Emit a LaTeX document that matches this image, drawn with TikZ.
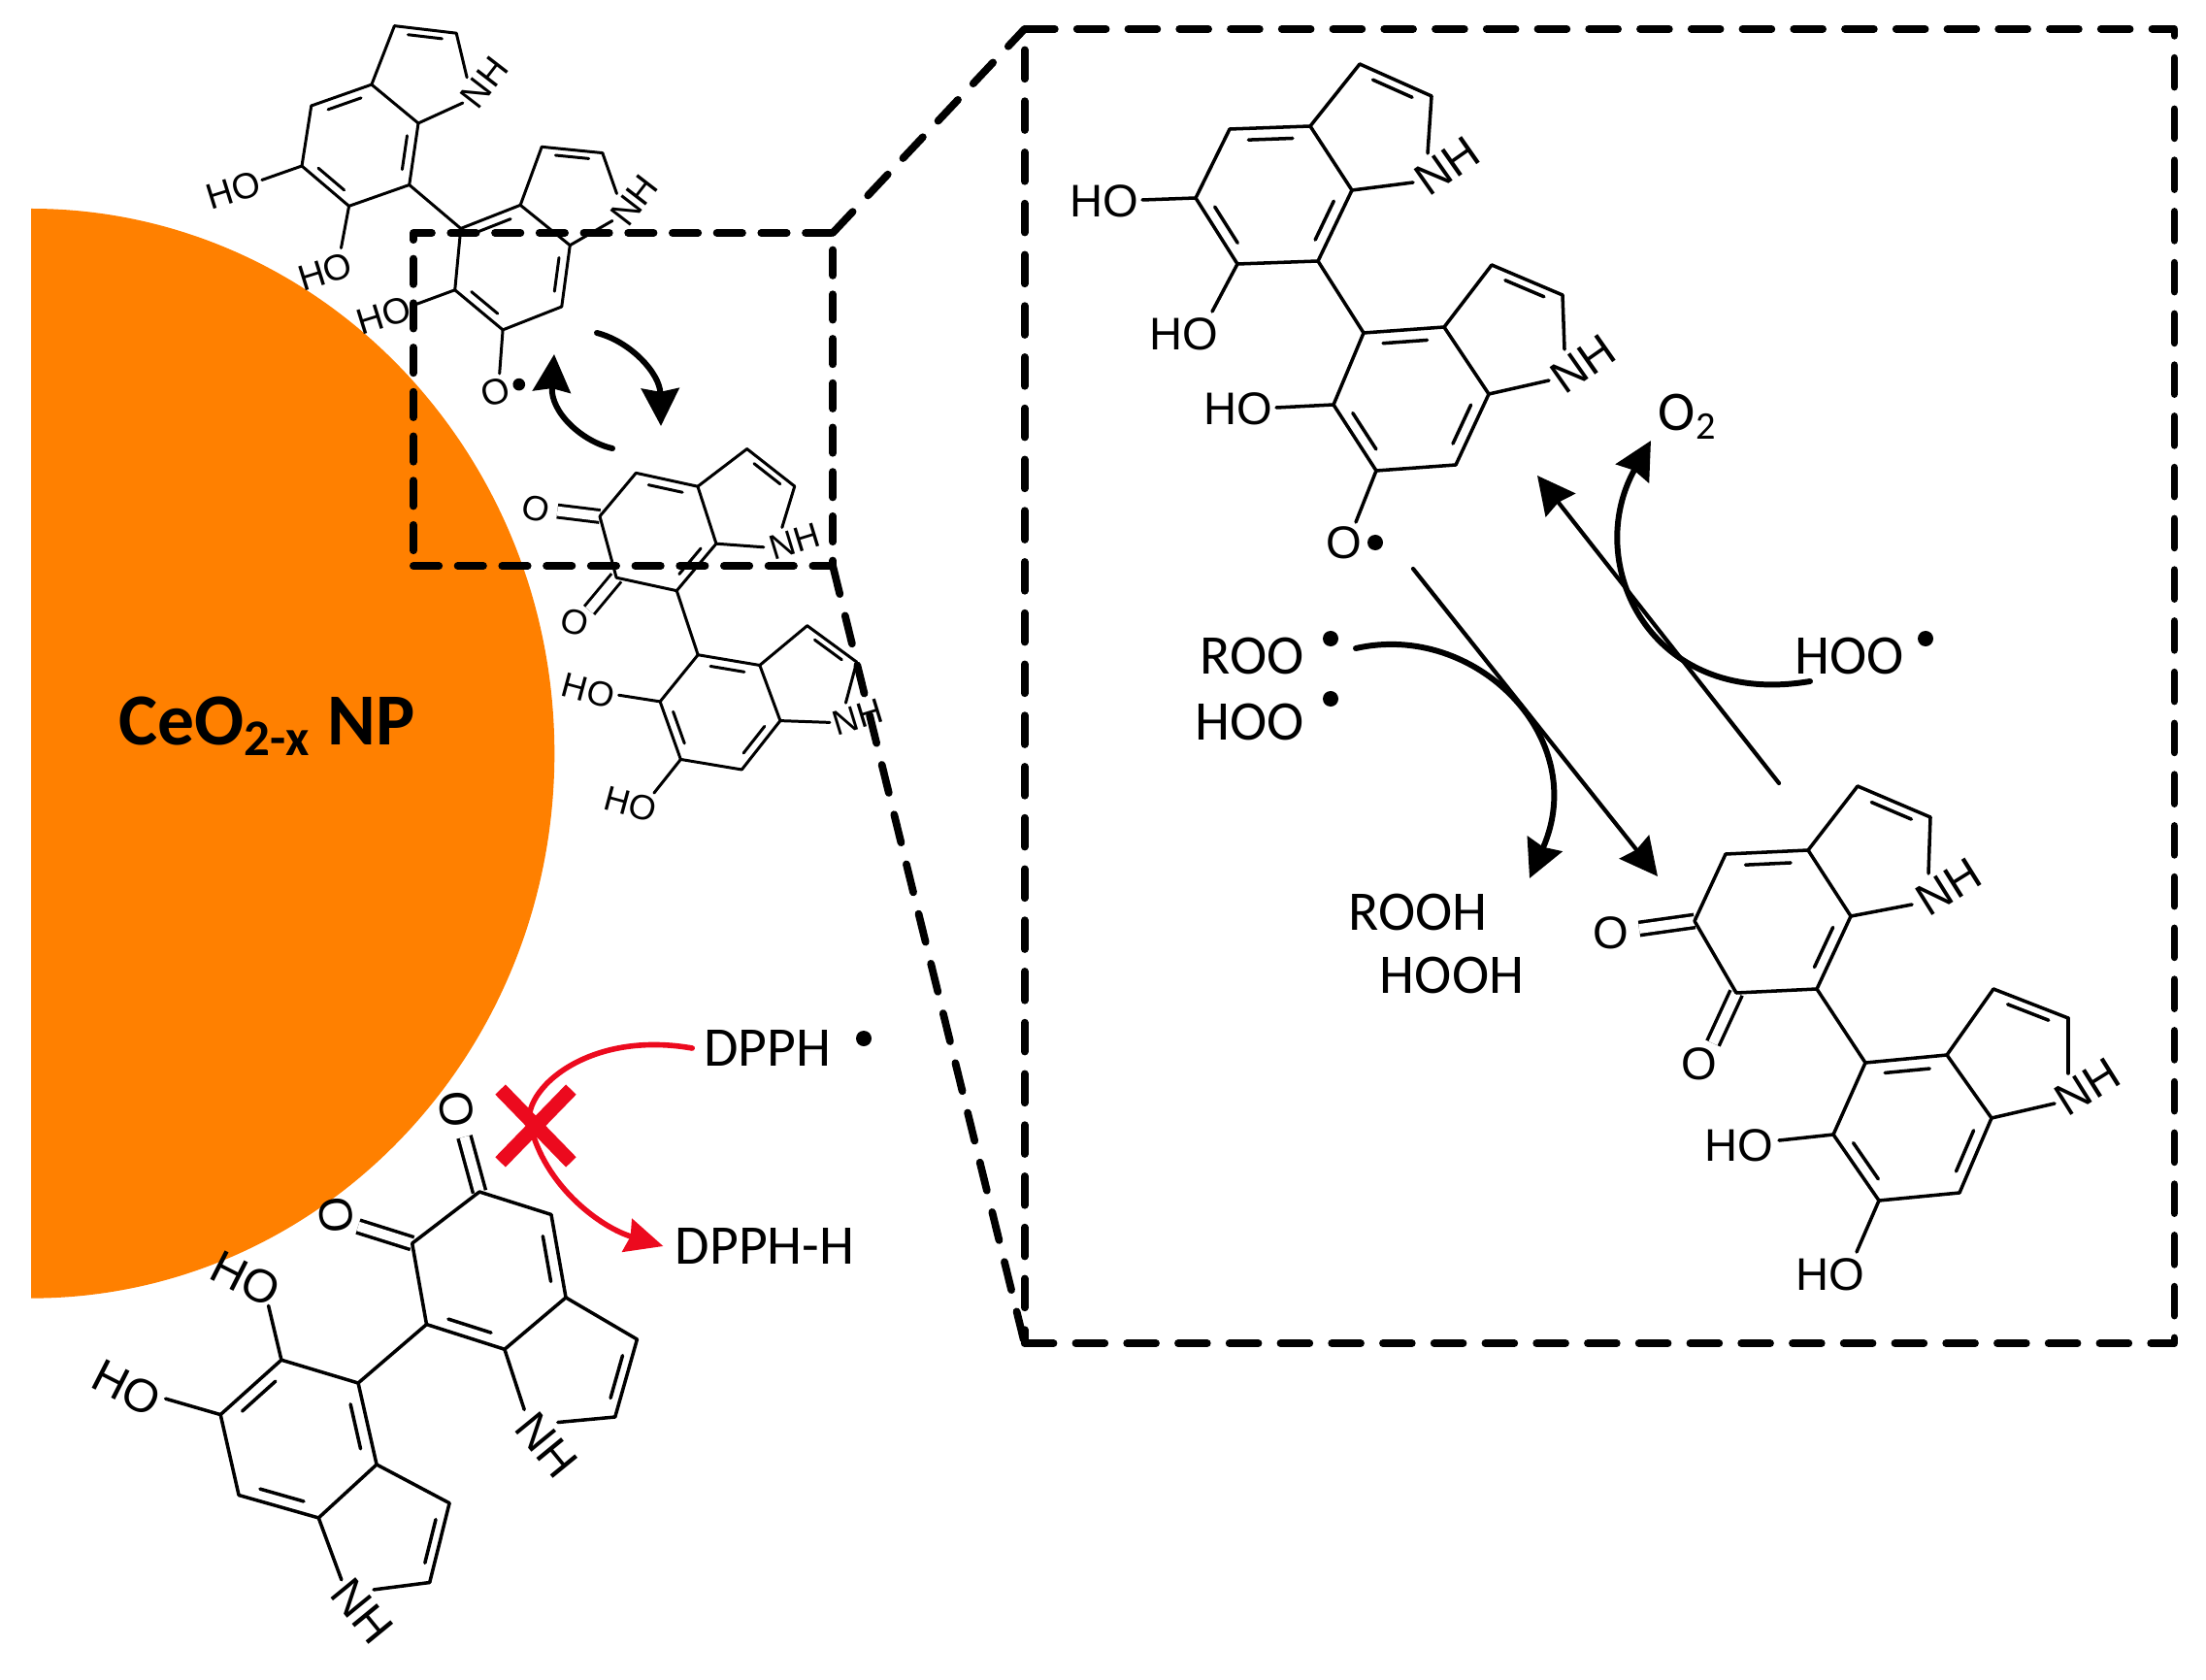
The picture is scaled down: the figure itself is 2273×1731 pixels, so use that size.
\documentclass[tikz,border=0pt]{standalone}
\usepackage{fontspec}
\setmainfont{Carlito}
\newfontfamily\chemfont{Liberation Sans}
\usetikzlibrary{arrows.meta,calc,shapes.misc}
\newcommand\inbond[3]{\draw ($(-#1)!.17!(-#2)!.17!(-#3)$) -- ($(-#2)!.17!(-#1)!.17!(-#3)$);}
\newcommand\bondset{%%
  \foreach \n/\m in {a1/a2,a2/n1,n2/c7a,a1/c3a,c3a/c4,c4/c5,c5/c6,c6/c7,c7/c7a,c7a/c3a,c7/e4,%%
    e4/e3a,e3a/e7a,e7a/e7,e7/e6,e6/e5,e5/e4,e3a/d1,d1/d2,d2/m1,m2/e7a}
    \draw (-\n) -- (-\m);
  \inbond{c3a}{c4}{r1}
  \inbond{c7}{c7a}{r1}
  \inbond{a1}{a2}{p1}
  \inbond{e4}{e3a}{r2}
  \inbond{e7a}{e7}{r2}
  \inbond{e6}{e5}{r2}
  \inbond{d1}{d2}{p2}
}
\tikzset{
  atom/.style={font=\chemfont\fontsize{13.4pt}{14pt}\selectfont,inner sep=0pt},
  label/.style={font=\fontsize{16.4pt}{18pt}\selectfont,inner sep=3pt},
  raddot/.style={circle,fill=black,inner sep=0pt,minimum size=.16cm},
  dblbond/.style={double,double distance=2.8pt,line cap=butt},
  ho place/.style={},
  zoombox/.style={draw,line width=2.2pt,dash pattern=on 8.5pt off 6.5pt,outer sep=0pt},
  zoomline/.style={line width=2.2pt,dash pattern=on 8.5pt off 6.5pt},
  step arrow/.style={line width=1.2pt,-{Stealth[length=11pt,width=11pt,inset=1pt]}},
  side arrow/.style={line width=1.7pt,-{Stealth[length=11pt,width=11pt,inset=1pt]}},
  red arrow/.style={draw=dppred,line width=1.6pt,-{Stealth[length=11pt,width=10pt,inset=1pt]}},
  pics/radical/.style={code={
    \foreach \n/\x/\y in {a1/169/-138,a2/243/-105,n1/239/-46,n2/224/-16,c3a/118/-74,c4/35/-71,c5/0/0,
      c6/43/68,c7/126/65,c7a/161/-8,e4/173/139,e3a/256/133,e7a/302/202,e7/268/275,e6/186/281,e5/142/213,
      d1/305/69,d2/378/100,m1/380/156,m2/364/188,h1/-55/2,h2/17/117,h3/83/216,oe/165/334,
      r1/80/-3,p1/187/-70,r2/222/207,p2/326/136}
      \coordinate (-\n) at (\x,\y);
    \bondset
    \inbond{c5}{c6}{r1}
    \draw (-c5) -- (-h1); \draw (-c6) -- (-h2); \draw (-e5) -- (-h3); \draw (-e6) -- (-oe); %%
    \node[atom] (-ho1) at (-94,3) {HO}; %%
    \node[atom] (-ho2) at (-12,140) {HO}; %%
    \node[atom] (-ho3) at (44,217) {HO}; %%
    \node[atom] (-ox) at (153,355) {O}; %%
    \node[raddot] (-dot) at (185,355) {}; %%
    \node[atom,rotate=35] (-nh1) at (259,-33) {NH}; %%
    \node[atom,rotate=35] (-nh2) at (399,171) {NH}; %%
  }},
  pics/quinone/.style={code={
    \foreach \n/\x/\y in {a1/168/-139,a2/243/-107,n1/241/-49,n2/224/-17,c3a/117/-73,c4/32/-69,c5/0/0,
      c6/43/74,c7/126/70,c7a/161/-5,e4/176/146,e3a/260/138,e7a/306/203,e7/273/280,e6/190/288,e5/143/220,
      d1/308/70,d2/385/100,m1/385/157,m2/371/188,o1/-57/8,o2/19/126,h1/87/226,h2/167/341,
      r1/82/0,p1/190/-68,r2/225/214,p2/330/138}
      \coordinate (-\n) at (\x,\y);
    \draw[dblbond] (-c5) -- (-o1); \draw[dblbond] (-c6) -- (-o2); %%
    \bondset
    \draw (-e5) -- (-h1); \draw (-e6) -- (-h2); %%
    \node[atom] (-ox1) at (-86,12) {O}; %%
    \node[atom] (-ox2) at (5,147) {O}; %%
    \node[atom,ho place] (-ho1) at (46,231) {HO}; %%
    \node[atom,ho place] (-ho2) at (140,364) {HO}; %%
    \node[atom,rotate=32] (-nh1) at (262,-35) {NH}; %%
    \node[atom,rotate=32] (-nh2) at (405,171) {NH}; %%
  }}
}
\definecolor{ceorange}{HTML}{FF8000}
\definecolor{dppred}{HTML}{EC0A1E}
\begin{document}
\begin{tikzpicture}[x=.01cm,y=-.01cm,line width=1pt,line cap=round,line join=round]
\useasboundingbox (0,0) rectangle (2273,1731);
\fill[ceorange] (32,215) arc[start angle=90,end angle=-90,x radius=5.39cm,y radius=5.61cm] -- cycle; %%
\node[font=\bfseries\fontsize{21.5pt}{24pt}\selectfont] (np) at (275,748) {CeO\textsubscript{2-x} NP}; %%
\pic[rotate=17.3,scale=.793,transform shape,line width=.85pt] (mA) at (311,171) {radical}; %%
\pic[rotate=-15,scale=.765,transform shape,line width=.85pt] (mC) at (618,532) {quinone}; %%
\pic[rotate=-82.7,scale=1.02,transform shape,ho place/.style={xshift=.112cm,yshift=-.145cm,rotate=55.7}] (mE) at (494,1228) {quinone}; %%
\pic (mB) at (1232,204) {radical}; %%
\pic (mD) at (1746,949) {quinone}; %%
\node[zoombox,dash pattern=on 7.5pt off 5.5pt,minimum width=4.32cm,minimum height=3.43cm] (small) at (642,411.5) {}; %%
\node[zoombox,minimum width=11.84cm,minimum height=13.535cm] (inset) at (1648,707) {}; %%
\draw[zoomline] (small.north east) -- (inset.north west); %%
\draw[zoomline] (small.south east) -- (inset.south west); %%
% small cycle
\coordinate (cwa) at (615,343); \coordinate (cwb) at (681,439); %%
\coordinate (ccwa) at (631,462); \coordinate (ccwb) at (571,365); %%
\draw[side arrow] (cwa) .. controls (650,352) and (680,385) .. (cwb); %%
\draw[side arrow] (ccwa) .. controls (600,455) and (567,425) .. (ccwb); %%
% DPPH
\node[label] (dpph) at (791,1080) {DPPH}; %%
\node[raddot] (dpphdot) at (890,1070) {}; %%
\node[label] (dpphh) at (788,1284) {DPPH-H}; %%
\coordinate (dppmid) at (548,1165); %%
\draw[red arrow] (dpph.west) .. controls (600,1060) and (530,1130) .. (dppmid) .. controls (565,1225) and (620,1265) .. (dpphh.west); %%
\node[cross out,draw=dppred,line width=4.2pt,line cap=butt,minimum width=.58cm,minimum height=.6cm] (nox) at (552,1160) {}; %%
% inset labels
\node[label] (roo) at (1290,676) {ROO}; %%
\node[raddot] (roodot) at (1371,658) {}; %%
\node[label] (hoo) at (1288,744) {HOO}; %%
\node[raddot] (hoodot) at (1371,720) {}; %%
\node[label] (hoor) at (1906,676) {HOO}; %%
\node[raddot] (hoordot) at (1984,658) {}; %%
\node[label] (otwo) at (1739,429) {O\textsubscript{2}}; %%
\node[label] (rooh) at (1461,940) {ROOH}; %%
\node[label] (hooh) at (1496,1005) {HOOH}; %%
\coordinate (fwa) at (1456,586); \coordinate (fwb) at (1708,903); %%
\coordinate (bwa) at (1833,807); \coordinate (bwb) at (1584,490); %%
\coordinate (rooa) at (1397,668); \coordinate (roob) at (1576,905); %%
\coordinate (hooa) at (1865,702); \coordinate (hoob) at (1701,454); %%
\draw[step arrow] (fwa) -- (fwb); %%
\draw[step arrow] (bwa) -- (bwb); %%
\draw[side arrow] (rooa) .. controls (1520,640) and (1640,760) .. (roob); %%
\draw[side arrow] (hooa) .. controls (1700,730) and (1630,580) .. (hoob); %%
\end{tikzpicture}
\end{document}
